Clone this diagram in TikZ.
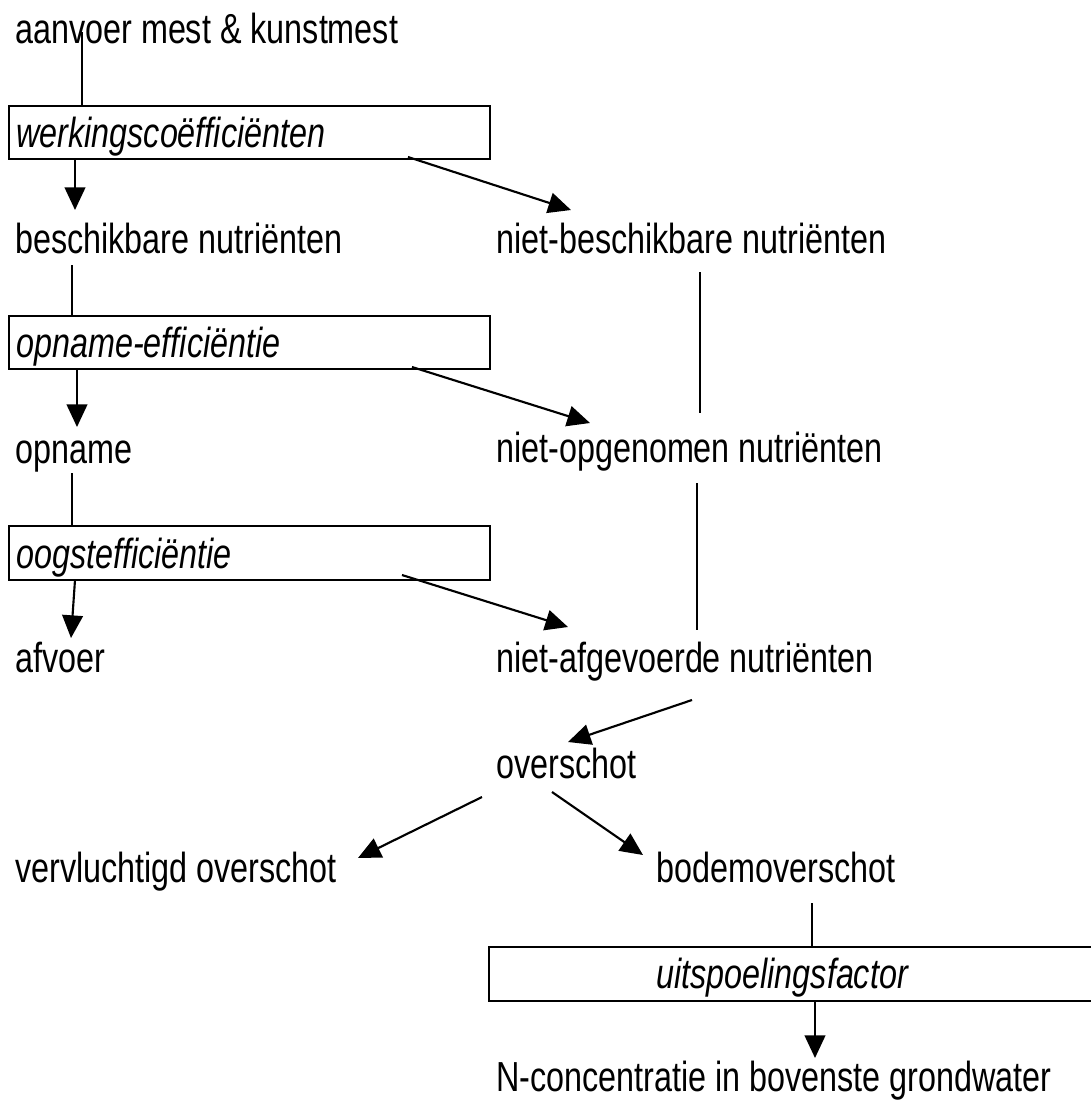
\documentclass[tikz,border=0pt]{standalone}
\usepackage{fontspec}
\setmainfont{Liberation Sans}[FakeStretch=0.77,Ligatures=CommonOff]
\usetikzlibrary{arrows.meta}
\begin{document}
\begin{tikzpicture}[x=0.75pt,y=-0.75pt,
  lbl/.style={anchor=base west,inner sep=0pt,font=\fontsize{31.5}{37}\selectfont},
  ilbl/.style={lbl,font=\fontsize{31.5}{37}\selectfont\itshape},
  boxst/.style={draw,line width=1.5pt,inner sep=0pt,rectangle},
  arr/.style={line width=1.6pt,-{Triangle[length=17pt,width=15.5pt]}},
  ln/.style={line width=1.1pt}]
\useasboundingbox[fill=white] (0,0) rectangle (1091,1104);
% boxes
\node[boxst,minimum width=360.75pt,minimum height=39.75pt] (b1) at (249.5,132.5) {};
\node[boxst,minimum width=360.75pt,minimum height=39.75pt] (b2) at (249.5,342.5) {};
\node[boxst,minimum width=360.75pt,minimum height=40.5pt] (b3) at (249.5,553) {};
\node[boxst,minimum width=454.5pt,minimum height=40.5pt] (b4) at (792,974) {};
% texts
\node[lbl] (top) at (15,43) {aanvoer mest \& kunstmest};
\node[ilbl] (t1) at (16,147) {werkingscoëfficiënten};
\node[lbl] (besch) at (15,253) {beschikbare nutriënten};
\node[lbl] (nbesch) at (496,253) {niet-beschikbare nutriënten};
\node[ilbl] (t2) at (16,357) {opname-efficiëntie};
\node[lbl] (opn) at (15,463) {opname};
\node[lbl] (nopg) at (496,462) {niet-opgenomen nutriënten};
\node[ilbl] (t3) at (16,568) {oogstefficiëntie};
\node[lbl] (afv) at (15,672) {afvoer};
\node[lbl] (nafg) at (496,672) {niet-afgevoerde nutriënten};
\node[lbl] (over) at (496,778) {overschot};
\node[lbl] (verv) at (15,882) {vervluchtigd overschot};
\node[lbl] (bodem) at (656,882) {bodemoverschot};
\node[ilbl] (t4) at (656,988) {uitspoelingsfactor};
\node[lbl] (nconc) at (496,1091) {N-concentratie in bovenste grondwater};
% connector end points
\coordinate (l1a) at (82,32);   \coordinate (l1b) at (82,106);
\coordinate (a1a) at (75,159);  \coordinate (a1b) at (75,210);
\coordinate (a2a) at (408,157); \coordinate (a2b) at (571,210);
\coordinate (l2a) at (72,265);  \coordinate (l2b) at (72,316);
\coordinate (a3a) at (77,369);  \coordinate (a3b) at (77,427);
\coordinate (a4a) at (412,367); \coordinate (a4b) at (590,423);
\coordinate (r1a) at (700,272); \coordinate (r1b) at (700,413);
\coordinate (l3a) at (72,473);  \coordinate (l3b) at (72,526);
\coordinate (a5a) at (75,580);  \coordinate (a5b) at (71,638);
\coordinate (a6a) at (402,575); \coordinate (a6b) at (568,627);
\coordinate (r2a) at (697,483); \coordinate (r2b) at (697,630);
\coordinate (a7a) at (692,700); \coordinate (a7b) at (568,742);
\coordinate (a8a) at (482,797); \coordinate (a8b) at (358,858);
\coordinate (a9a) at (552,792); \coordinate (a9b) at (643,855);
\coordinate (l4a) at (812,903); \coordinate (l4b) at (812,947);
\coordinate (a10a) at (815,1001); \coordinate (a10b) at (815,1058);
% connectors
\draw[ln] (l1a) -- (l1b);
\draw[arr] (a1a) -- (a1b);
\draw[arr] (a2a) -- (a2b);
\draw[ln] (l2a) -- (l2b);
\draw[arr] (a3a) -- (a3b);
\draw[arr] (a4a) -- (a4b);
\draw[ln] (r1a) -- (r1b);
\draw[ln] (l3a) -- (l3b);
\draw[arr] (a5a) -- (a5b);
\draw[arr] (a6a) -- (a6b);
\draw[ln] (r2a) -- (r2b);
\draw[arr] (a7a) -- (a7b);
\draw[arr] (a8a) -- (a8b);
\draw[arr] (a9a) -- (a9b);
\draw[ln] (l4a) -- (l4b);
\draw[arr] (a10a) -- (a10b);
\end{tikzpicture}
\end{document}
